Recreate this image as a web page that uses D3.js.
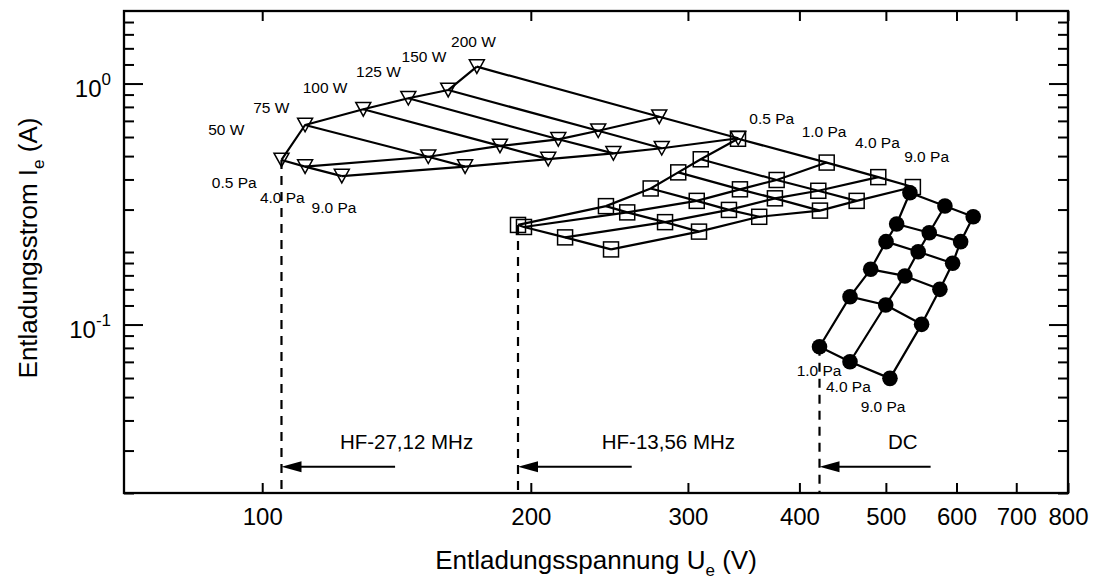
<!DOCTYPE html>
<html>
<head>
<meta charset="utf-8">
<script src="https://cdn.jsdelivr.net/npm/d3@7"></script>
<style>
  body { margin: 0; background: #fff; }
  svg text { font-family: "Liberation Sans", Arial, Helvetica, sans-serif; fill: #000; }
</style>
</head>
<body>
<svg id="chart" width="1097" height="581"></svg>
<script>
// ---------- data ----------
// HF 27.12 MHz discharge: rows = pressure, columns = RF power
const hf27Power = ["50 W", "75 W", "100 W", "125 W", "150 W", "200 W"];
const hf27Pressure = ["0.5 Pa", "4.0 Pa", "9.0 Pa"];
const hf27Voltage = [
  [105.1, 111.7, 129.8, 145.8, 161.6, 174.0],
  [111.7, 153.5, 184.7, 214.7, 238.0, 278.6],
  [122.8, 168.8, 209.2, 247.5, 280.4, 341.6]
];
const hf27Current = [
  [0.482, 0.673, 0.782, 0.869, 0.940, 1.175],
  [0.452, 0.497, 0.551, 0.587, 0.637, 0.728],
  [0.413, 0.452, 0.486, 0.513, 0.539, 0.593]
];

// HF 13.56 MHz discharge: rows = pressure, columns = power level
const hf13Pressure = ["0.5 Pa", "1.0 Pa", "4.0 Pa", "9.0 Pa"];
const hf13Voltage = [
  [193.5, 242.8, 272.5, 292.6, 310.1, 341.4],
  [196.5, 256.5, 306.9, 343.1, 377.2, 429.2],
  [218.5, 282.8, 333.5, 375.5, 420.0, 490.3],
  [246.0, 308.7, 360.6, 421.8, 463.7, 536.1]
];
const hf13Current = [
  [0.259, 0.310, 0.367, 0.428, 0.485, 0.590],
  [0.254, 0.292, 0.326, 0.364, 0.398, 0.470],
  [0.230, 0.266, 0.299, 0.334, 0.359, 0.409],
  [0.205, 0.243, 0.280, 0.297, 0.326, 0.372]
];

// DC discharge: rows = pressure, columns = power level
const dcPressure = ["1.0 Pa", "4.0 Pa", "9.0 Pa"];
const dcVoltage = [
  [421.3, 455.8, 480.8, 500.2, 514.1, 532.0],
  [455.8, 499.8, 525.2, 543.5, 559.2, 582.3],
  [505.3, 548.3, 574.8, 594.0, 606.4, 626.4]
];
const dcCurrent = [
  [0.0809, 0.1305, 0.1695, 0.2208, 0.2614, 0.3524],
  [0.0701, 0.1205, 0.1591, 0.2006, 0.2404, 0.3104],
  [0.0598, 0.1002, 0.1400, 0.1796, 0.2208, 0.2802]
];

// label anchors in data units [U (V), I (A)]
const hf27PowerLabelAt = [[87.0, 0.612], [97.7, 0.757], [111.0, 0.916], [127.4, 1.068], [143.3, 1.232], [162.8, 1.422]];
const hf27PressureLabelAt = [[87.8, 0.367], [99.4, 0.320], [113.6, 0.289]];
const hf13PressureLabelAt = [[351.5, 0.680], [402.3, 0.602], [461.7, 0.539], [524.2, 0.474]];
const dcPressureLabelAt = [[397.2, 0.0612], [428.4, 0.0527], [468.5, 0.0435]];

// ignition markers: source name, arrow tail voltage, label start voltage
const sourceNames = ["HF-27,12 MHz", "HF-13,56 MHz", "DC"];
const arrowTailVoltage = [140.9, 259.5, 561.2];
const sourceLabelVoltage = [122.2, 240.2, 502.7];
const arrowCurrent = 0.0257;
const sourceLabelCurrent = 0.0304;

// axis ticks
const xTicks = [100, 200, 300, 400, 500, 600, 700, 800];
const yMajorTicks = [0.1, 1];
const yMajorLabels = [["10", "-1"], ["10", "0"]];
const yMinorTicks = [0.02, 0.03, 0.04, 0.05, 0.06, 0.07, 0.08, 0.09,
  0.12, 0.14, 0.16, 0.18, 0.2, 0.3, 0.4, 0.5, 0.6, 0.7, 0.8, 0.9,
  1.2, 1.4, 1.6, 1.8];

// ---------- chart ----------
const svg = d3.select("#chart");
const frame = { left: 124, right: 1068, top: 11, bottom: 493 };
const x = d3.scaleLog().domain([70, 800]).range([frame.left, frame.right]);
const y = d3.scaleLog().domain([0.02, 2]).range([frame.bottom, frame.top]);

const fontTick = 24, fontTitle = 26, fontNote = 15.5, fontSource = 20.5;

// axes with inward ticks on all four sides
const allYTicks = yMinorTicks.concat(yMajorTicks);
function styleAxis(g) {
  g.select(".domain").remove();
  g.selectAll(".tick line").attr("stroke", "#000").attr("stroke-width", 2);
}
svg.append("g").attr("transform", `translate(0,${frame.bottom})`)
  .call(d3.axisBottom(x).tickValues(xTicks).tickSize(-10).tickPadding(15).tickFormat(d3.format("d")))
  .call(styleAxis)
  .call(g => g.selectAll(".tick text")
    .attr("font-size", fontTick).attr("font-family", "Liberation Sans, Arial, sans-serif"));
svg.append("g").attr("transform", `translate(0,${frame.top})`)
  .call(d3.axisTop(x).tickValues(xTicks).tickSize(-10).tickFormat(""))
  .call(styleAxis);
svg.append("g").attr("transform", `translate(${frame.left},0)`)
  .call(d3.axisLeft(y).tickValues(allYTicks).tickSize(-10).tickFormat(""))
  .call(styleAxis)
  .call(g => g.selectAll(".tick line").filter(d => yMajorTicks.includes(d)).attr("x2", 19));
svg.append("g").attr("transform", `translate(${frame.right},0)`)
  .call(d3.axisRight(y).tickValues(allYTicks).tickSize(-10).tickFormat(""))
  .call(styleAxis)
  .call(g => g.selectAll(".tick line").filter(d => yMajorTicks.includes(d)).attr("x2", -19));

// y tick labels as powers of ten
yMajorTicks.forEach((v, i) => {
  const t = svg.append("text")
    .attr("x", frame.left - 13).attr("y", y(v) + 13.5)
    .attr("text-anchor", "end").attr("font-size", fontTick)
    .text(yMajorLabels[i][0]);
  t.append("tspan").attr("dy", -12.5).attr("font-size", 17).text(yMajorLabels[i][1]);
});

// plot frame
svg.append("rect")
  .attr("x", frame.left).attr("y", frame.top)
  .attr("width", frame.right - frame.left).attr("height", frame.bottom - frame.top)
  .attr("fill", "none").attr("stroke", "#000").attr("stroke-width", 2.3);

// axis titles
const xt = svg.append("text")
  .attr("x", 596).attr("y", 569)
  .attr("text-anchor", "middle").attr("font-size", fontTitle)
  .text("Entladungsspannung U");
xt.append("tspan").attr("dy", 7).attr("font-size", 17).text("e");
xt.append("tspan").attr("dy", -7).text(" (V)");

const yt = svg.append("text")
  .attr("transform", `translate(37,248) rotate(-90)`)
  .attr("text-anchor", "middle").attr("font-size", fontTitle)
  .text("Entladungsstrom  I");
yt.append("tspan").attr("dy", 7).attr("font-size", 17).text("e");
yt.append("tspan").attr("dy", -7).text("  (A)");

// ---------- data grids ----------
const line = d3.line().x(d => x(d[0])).y(d => y(d[1]));
function gridPaths(V, I) {
  const rows = V.map((r, i) => r.map((v, j) => [v, I[i][j]]));
  const cols = V[0].map((_, j) => V.map((r, i) => [r[j], I[i][j]]));
  return rows.concat(cols);
}
function points(V, I) {
  return V.flatMap((r, i) => r.map((v, j) => [v, I[i][j]]));
}

// ignition (dashed) lines from the lowest operating point down to the axis
const onset = [[hf27Voltage[0][0], hf27Current[0][0]],
               [hf13Voltage[0][0], hf13Current[0][0]],
               [dcVoltage[0][0], dcCurrent[0][0]]];
svg.append("g").selectAll("line").data(onset).join("line")
  .attr("x1", d => x(d[0])).attr("x2", d => x(d[0]))
  .attr("y1", d => y(d[1])).attr("y2", frame.bottom)
  .attr("stroke", "#000").attr("stroke-width", 2.2)
  .attr("stroke-dasharray", "9,7");

// arrows pointing to the ignition voltage
const arrows = svg.append("g");
onset.forEach((d, i) => {
  const xTail = x(arrowTailVoltage[i]), xHead = x(d[0]), ya = y(arrowCurrent);
  arrows.append("line")
    .attr("x1", xTail).attr("x2", xHead + 15).attr("y1", ya).attr("y2", ya)
    .attr("stroke", "#000").attr("stroke-width", 2.2);
  arrows.append("path")
    .attr("d", `M${xHead},${ya} L${xHead + 20},${ya - 5.5} L${xHead + 20},${ya + 5.5} Z`)
    .attr("fill", "#000");
  svg.append("text")
    .attr("x", x(sourceLabelVoltage[i])).attr("y", y(sourceLabelCurrent))
    .attr("font-size", fontSource).text(sourceNames[i]);
});

const gridG = svg.append("g").attr("fill", "none").attr("stroke", "#000")
  .attr("stroke-width", 2.2).attr("stroke-linejoin", "round");
[[hf27Voltage, hf27Current], [hf13Voltage, hf13Current], [dcVoltage, dcCurrent]]
  .forEach(([V, I]) => {
    gridG.append("g").selectAll("path").data(gridPaths(V, I)).join("path").attr("d", line);
  });

// markers
svg.append("g").selectAll("path").data(points(hf27Voltage, hf27Current)).join("path")
  .attr("transform", d => `translate(${x(d[0])},${y(d[1])})`)
  .attr("d", "M-7.5,-6.8 L7.5,-6.8 L0,6.8 Z")
  .attr("fill", "none").attr("stroke", "#000").attr("stroke-width", 1.5);

svg.append("g").selectAll("rect").data(points(hf13Voltage, hf13Current)).join("rect")
  .attr("x", d => x(d[0]) - 7.5).attr("y", d => y(d[1]) - 7.5)
  .attr("width", 15).attr("height", 15)
  .attr("fill", "none").attr("stroke", "#000").attr("stroke-width", 1.5);

svg.append("g").selectAll("circle").data(points(dcVoltage, dcCurrent)).join("circle")
  .attr("cx", d => x(d[0])).attr("cy", d => y(d[1])).attr("r", 7.8)
  .attr("fill", "#000");

// ---------- annotations ----------
function notes(labels, at) {
  svg.append("g").selectAll("text").data(labels).join("text")
    .attr("x", (d, i) => x(at[i][0])).attr("y", (d, i) => y(at[i][1]))
    .attr("font-size", fontNote).text(d => d);
}
notes(hf27Power, hf27PowerLabelAt);
notes(hf27Pressure, hf27PressureLabelAt);
notes(hf13Pressure, hf13PressureLabelAt);
notes(dcPressure, dcPressureLabelAt);
</script>
</body>
</html>
